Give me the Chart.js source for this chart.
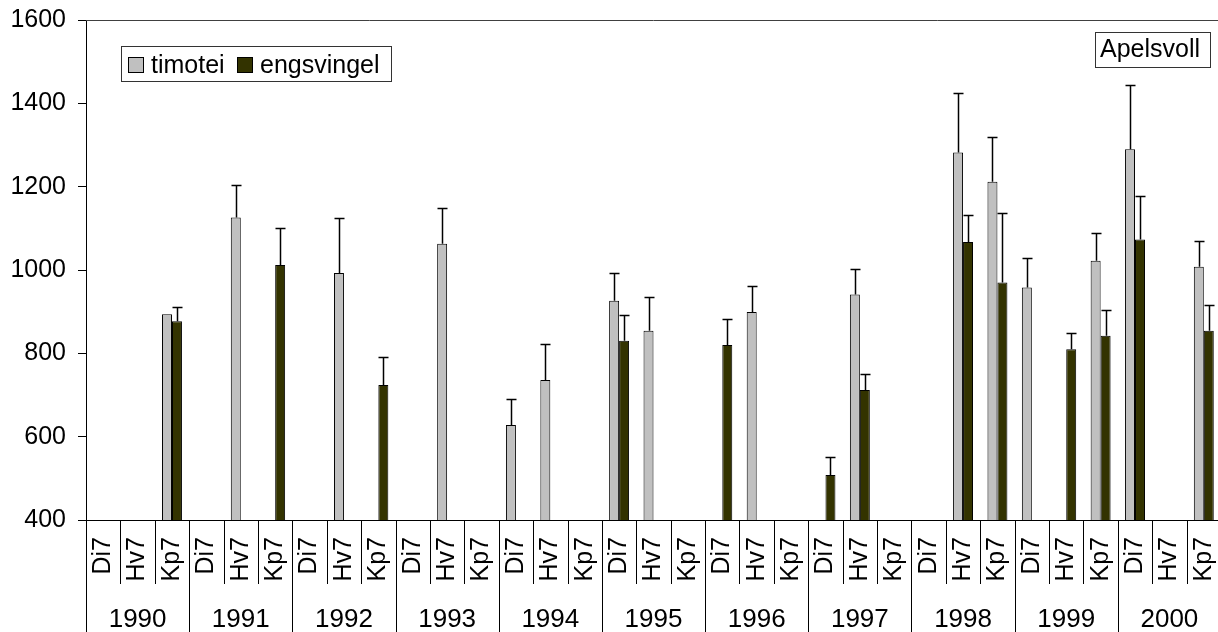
<!DOCTYPE html>
<html>
<head>
<meta charset="utf-8">
<script src="https://cdn.jsdelivr.net/npm/chart.js@4/dist/chart.umd.min.js"></script>
<style>
  html, body { margin: 0; padding: 0; background: #fff; overflow: hidden; }
  #wrap { width: 1221px; height: 632px; position: relative; }
</style>
</head>
<body>
<div id="wrap"><canvas id="c"></canvas></div>
<script>
// Harvest years and cutting treatments (three per year)
const years = ['1990', '1991', '1992', '1993', '1994', '1995', '1996', '1997', '1998', '1999', '2000'];
const cuts = ['Di7', 'Hv7', 'Kp7'];

// Yield per year/treatment, with the upper error amount for each bar
const timotei = [
  null, null, 894,
  null, 1126, null,
  null, 993, null,
  null, 1063, null,
  628, 736, null,
  926, 854, null,
  null, 899, null,
  null, 941, null,
  null, 1282, 1212,
  958, null, 1022,
  1290, null, 1008
];
const timoteiErr = [
  null, null, null,
  null, 77, null,
  null, 131, null,
  null, 86, null,
  62, 86, null,
  66, 82, null,
  null, 62, null,
  null, 61, null,
  null, 143, 108,
  72, null, 68,
  155, null, 62
];
const engsvingel = [
  null, null, 877,
  null, null, 1012,
  null, null, 724,
  null, null, null,
  null, null, null,
  830, null, null,
  820, null, null,
  508, 712, null,
  null, 1067, 970,
  null, 810, 842,
  1073, null, 854
];
const engsvingelErr = [
  null, null, 35,
  null, null, 88,
  null, null, 67,
  null, null, null,
  null, null, null,
  63, null, null,
  62, null, null,
  44, 39, null,
  null, 66, 168,
  null, 39, 62,
  105, null, 62
];

const yTicks = { min: 400, max: 1600, step: 200 };
const siteName = 'Apelsvoll';

const labels = years.flatMap(() => cuts);
const FONT = '"Liberation Sans", Arial, sans-serif';

// Upper error whiskers with a short cap
const errorBars = {
  id: 'errorBars',
  afterDatasetsDraw(chart) {
    const ctx = chart.ctx;
    const yScale = chart.scales.y;
    ctx.save();
    ctx.strokeStyle = '#000';
    ctx.lineWidth = 1.5;
    chart.data.datasets.forEach((ds, di) => {
      const meta = chart.getDatasetMeta(di);
      meta.data.forEach((el, i) => {
        const v = ds.data[i];
        const e = ds.errors[i];
        if (v == null || e == null) return;
        const x = Math.round(el.x) + 0.5;
        const yBar = yScale.getPixelForValue(v);
        const yTop = Math.round(yScale.getPixelForValue(v + e)) + 0.5;
        ctx.beginPath();
        ctx.moveTo(x, yBar);
        ctx.lineTo(x, yTop);
        ctx.moveTo(x - 5, yTop);
        ctx.lineTo(x + 5, yTop);
        ctx.stroke();
      });
    });
    ctx.restore();
  }
};

// Frame top, two-level category axis, legend and site label
const decorations = {
  id: 'decorations',
  afterDraw(chart) {
    const ctx = chart.ctx;
    const area = chart.chartArea;
    const xScale = chart.scales.x;
    const n = labels.length;
    const catW = (area.right - area.left) / n;
    ctx.save();

    // top frame line
    ctx.strokeStyle = '#404040';
    ctx.lineWidth = 1;
    ctx.beginPath();
    ctx.moveTo(area.left, Math.round(area.top) + 0.5);
    ctx.lineTo(area.right, Math.round(area.top) + 0.5);
    ctx.stroke();

    // separators below the axis
    ctx.strokeStyle = '#000';
    for (let k = 0; k <= n; k++) {
      const x = Math.round(area.left + k * catW) + 0.5;
      const yEnd = (k % cuts.length === 0) ? chart.height : area.bottom + 64;
      ctx.beginPath();
      ctx.moveTo(x, area.bottom);
      ctx.lineTo(x, yEnd);
      ctx.stroke();
    }

    // treatment labels, rotated
    ctx.fillStyle = '#000';
    ctx.font = '25px ' + FONT;
    labels.forEach((lab, i) => {
      const cx = xScale.getPixelForValue(i);
      ctx.save();
      ctx.translate(cx, area.bottom + 17);
      ctx.rotate(-Math.PI / 2);
      ctx.textAlign = 'right';
      ctx.textBaseline = 'middle';
      ctx.fillText(lab, 0, 0);
      ctx.restore();
    });

    // year labels
    ctx.font = '26px ' + FONT;
    ctx.textAlign = 'center';
    ctx.textBaseline = 'alphabetic';
    years.forEach((yr, j) => {
      const cx = area.left + (j + 0.5) * cuts.length * catW;
      ctx.fillText(yr, cx, area.bottom + 107);
    });

    // legend
    ctx.lineWidth = 1;
    ctx.strokeStyle = '#333';
    ctx.strokeRect(121.5, 46.5, 270, 35);
    ctx.font = '25px ' + FONT;
    ctx.textAlign = 'left';
    const legendX = [128, 237];
    chart.data.datasets.forEach((ds, di) => {
      const sx = legendX[di];
      ctx.fillStyle = ds.backgroundColor;
      ctx.fillRect(sx, 57, 16, 16);
      ctx.strokeStyle = '#000';
      ctx.strokeRect(sx + 0.5, 57.5, 15, 15);
      ctx.fillStyle = '#000';
      ctx.fillText(ds.label, sx + 23, 73);
    });

    // site label
    ctx.strokeStyle = '#333';
    ctx.strokeRect(1095.5, 32.5, 115, 35);
    ctx.font = '25px ' + FONT;
    ctx.fillStyle = '#000';
    ctx.fillText(siteName, 1100, 57);

    ctx.restore();
  }
};

new Chart(document.getElementById('c'), {
  type: 'bar',
  data: {
    labels: labels,
    datasets: [
      {
        label: 'timotei',
        data: timotei,
        errors: timoteiErr,
        backgroundColor: '#C0C0C0',
        borderColor: '#000',
        borderWidth: 1,
        borderSkipped: false
      },
      {
        label: 'engsvingel',
        data: engsvingel,
        errors: engsvingelErr,
        backgroundColor: '#333300',
        borderColor: '#000',
        borderWidth: 1,
        borderSkipped: false
      }
    ]
  },
  options: {
    responsive: true,
    maintainAspectRatio: false,
    devicePixelRatio: 1,
    animation: false,
    layout: { padding: { top: 20, left: 0, right: 0, bottom: 0 } },
    datasets: {
      bar: { categoryPercentage: 0.58, barPercentage: 1.0 }
    },
    plugins: {
      legend: { display: false },
      tooltip: { enabled: false },
      title: { display: false }
    },
    scales: {
      x: {
        type: 'category',
        offset: true,
        ticks: { display: false },
        grid: { display: false, drawTicks: false },
        border: { display: true, color: '#000', width: 1 },
        afterFit(scale) { scale.height = 112; }
      },
      y: {
        min: yTicks.min,
        max: yTicks.max,
        ticks: {
          stepSize: yTicks.step,
          color: '#000',
          font: { family: FONT, size: 25 },
          padding: 12,
          callback: (v) => String(v)
        },
        grid: { drawOnChartArea: false, drawTicks: true, tickLength: 8, color: '#000' },
        border: { display: true, color: '#000', width: 1 },
        afterFit(scale) {
          scale.width = 86;
          scale.paddingTop = 0;
          scale.paddingBottom = 0;
        }
      }
    }
  },
  plugins: [errorBars, decorations]
});
</script>
</body>
</html>
